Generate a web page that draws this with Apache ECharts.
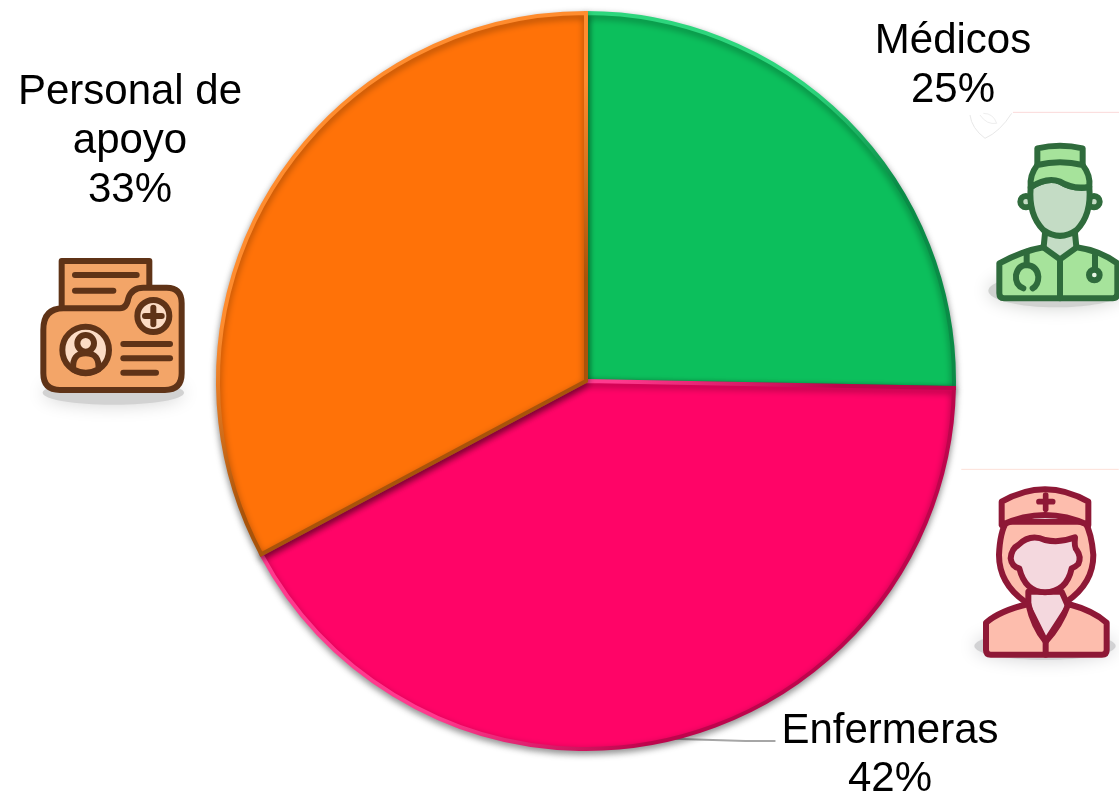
<!DOCTYPE html>
<html>
<head>
<meta charset="utf-8">
<style>html,body{margin:0;padding:0;background:#fff}#c{width:1119px;height:792px}</style>
<script src="https://cdn.jsdelivr.net/npm/echarts@6/dist/echarts.min.js"></script>
</head>
<body>
<div id="c"></div>
<script>
const categories = ['Médicos', 'Enfermeras', 'Personal de\napoyo'];
const values = [25.3, 41.9, 32.8];
const sliceColors = ['#0cbf5c', '#ff0467', '#ff7208'];
const lightEdges = ['#2dd67d', '#ff3a8e', '#ff8c2e'];
const darkEdges = ['#0a8c47', '#bd054c', '#a9530a'];
const labelPlaces = [
  {x: 953, y: 66, align: 'center'},
  {x: 890, y: 741, align: 'center'},
  {x: 130, y: 141, align: 'center'}
];

function path(d, style) {
  const name = 'p' + (path.n = (path.n || 0) + 1);
  echarts.graphic.registerShape(name, echarts.graphic.extendPath(d, {}));
  return {type: name, style: style};
}
function circle(cx, cy, r, style) { return {type: 'circle', shape: {cx, cy, r}, style}; }
function ellipse(cx, cy, rx, ry, fill) {
  return {type: 'ellipse', shape: {cx, cy, rx, ry}, style: {fill, shadowBlur: 18, shadowColor: fill}};
}
function line(x1, y1, x2, y2, stroke, w) {
  return {type: 'line', shape: {x1, y1, x2, y2}, style: {stroke, lineWidth: w, lineCap: 'round', fill: null}};
}
function icon(x, y, children) {
  return {type: 'group', x, y, scaleX: 1 / 3, scaleY: 1 / 3, silent: true, children};
}
const W = 18;

function doctor() {
  const k = '#2f6b3c', f = '#a6e39b', g = '#c4dcc5';
  const s = fill => ({fill, stroke: k, lineWidth: W, lineJoin: 'round', lineCap: 'round'});
  const n = {fill: null, stroke: k, lineWidth: W, lineCap: 'round'};
  return icon(960, 100, [
    ellipse(290, 572, 205, 50, '#d0d2d0'),
    path('M30 45 Q35 85 75 115 Q120 95 155 40', {fill: null, stroke: '#e8e8e8', lineWidth: 3}),
    path('M60 45 Q80 75 110 70 Q100 40 70 40', {fill: null, stroke: '#eeeeee', lineWidth: 3}),
    line(160, 37, 477, 37, '#fbd9d9', 3),
    circle(198, 305, 17, s(g)), circle(402, 305, 17, s(g)),
    path('M255 400 L345 400 L350 450 L300 482 L250 450 Z', s(g)),
    path('M212 262 Q205 345 250 390 Q300 425 350 390 Q395 345 388 262 Q340 270 300 245 Q260 230 212 262 Z', s(g)),
    path('M118 490 Q190 452 250 442 L300 478 L350 442 Q420 452 472 490 L472 580 Q472 595 458 595 L132 595 Q118 595 118 580 Z', s(f)),
    line(300, 478, 300, 595, k, W),
    path('M232 145 Q300 130 368 145 L368 195 L232 195 Z', s(f)),
    path('M232 195 Q208 225 212 262 Q260 230 300 245 Q340 270 388 260 Q392 225 368 195 Q300 178 232 195 Z', s(f)),
    path('M190 565 Q165 555 168 525 Q175 495 200 495 Q232 498 235 530 Q235 555 218 565', n),
    line(200, 455, 200, 495, k, W),
    line(405, 465, 405, 505, k, W),
    circle(403, 525, 16, {fill: '#e8f5e4', stroke: k, lineWidth: W})
  ]);
}

function nurse() {
  const k = '#8e1836', f = '#fdbdad', g = '#f4d8de';
  const s = fill => ({fill, stroke: k, lineWidth: W, lineJoin: 'round', lineCap: 'round'});
  return icon(950, 460, [
    line(35, 28, 505, 28, '#fde0d8', 3),
    ellipse(285, 558, 212, 42, '#d2d2d4'),
    path('M147 285 Q150 215 170 185 L405 185 Q425 220 430 285 Q430 370 350 425 L225 425 Q147 370 147 285 Z', s(f)),
    path('M235 395 L335 395 L355 440 L287 545 L235 440 Z', s(g)),
    path('M108 488 Q150 452 235 432 Q250 500 287 545 Q330 500 355 432 Q430 452 470 488 L470 570 Q470 584 456 584 L122 584 Q108 584 108 570 Z', s(f)),
    line(287, 545, 287, 584, k, W),
    path('M205 255 Q240 220 285 240 Q330 250 375 232 Q372 262 380 270 Q395 290 385 312 Q375 322 365 325 Q350 395 285 397 Q225 395 208 325 Q185 320 182 295 Q185 265 205 255 Z', s(g)),
    path('M155 125 Q285 50 415 125 L415 195 Q285 135 155 195 Z', s(f)),
    line(287, 105, 287, 148, k, 17),
    line(267, 125, 308, 125, k, 17)
  ]);
}

function folder() {
  const k = '#5f3317', f = '#f3a568', g = '#fbdcc5';
  const s = fill => ({fill, stroke: k, lineWidth: W, lineJoin: 'round', lineCap: 'round'});
  return icon(30, 250, [
    ellipse(250, 428, 212, 36, '#d2d2d2'),
    path('M95 33 L358 33 L358 180 L95 180 Z', s(f)),
    line(135, 75, 320, 75, k, W),
    line(135, 122, 250, 122, k, W),
    path('M40 240 Q40 175 100 175 L270 175 Q290 175 295 145 Q305 113 340 113 L410 113 Q455 113 455 160 L455 370 Q455 420 405 420 L90 420 Q40 420 40 370 Z', s(f)),
    circle(370, 198, 48, s(g)),
    line(345, 198, 395, 198, k, W),
    line(370, 173, 370, 223, k, W),
    circle(167, 300, 70, s(g)),
    circle(167, 280, 25, s(g)),
    path('M130 358 Q125 310 167 310 Q210 310 205 358 Q167 378 130 358 Z', s(f)),
    line(280, 282, 420, 282, k, W),
    line(280, 325, 420, 325, k, W),
    line(280, 368, 378, 368, k, W)
  ]);
}

const textStyle = {fontFamily: 'Liberation Sans', fontSize: 42, color: '#000', align: 'center'};
const chart = echarts.init(document.getElementById('c'), null, {renderer: 'canvas'});
chart.setOption({
  animation: false,
  backgroundColor: '#fff',
  graphic: {elements: [doctor(), nurse(), folder()]},
  series: [{
    type: 'pie',
    center: [586, 381],
    radius: [0, 368],
    startAngle: 90,
    clockwise: true,
    percentPrecision: 0,
    data: categories.map((name, i) => ({
      name,
      value: values[i],
      itemStyle: {
        color: sliceColors[i],
        borderColor: new echarts.graphic.LinearGradient(0, 0, 1, 1, [
          {offset: 0, color: lightEdges[i]},
          {offset: 0.4, color: lightEdges[i]},
          {offset: 0.65, color: darkEdges[i]},
          {offset: 1, color: darkEdges[i]}
        ]),
        borderWidth: 4,
        borderJoin: 'miter',
        shadowBlur: 7,
        shadowColor: 'rgba(0,0,0,0.4)',
        shadowOffsetY: 3
      },
      label: i === 1 ? {
        formatter: '{t|{b}\n{d}%}',
        rich: {t: Object.assign({lineHeight: 48}, textStyle)},
        padding: [28, 6, 0, 6]
      } : {},
      labelLine: {show: i === 1}
    })),
    label: Object.assign({formatter: '{b}\n{d}%', lineHeight: 49, overflow: 'none'}, textStyle),
    labelLine: {lineStyle: {color: '#a6a6a6', width: 2}},
    labelLayout: p => labelPlaces[p.dataIndex],
    emphasis: {disabled: true}
  }]
});
</script>
</body>
</html>
